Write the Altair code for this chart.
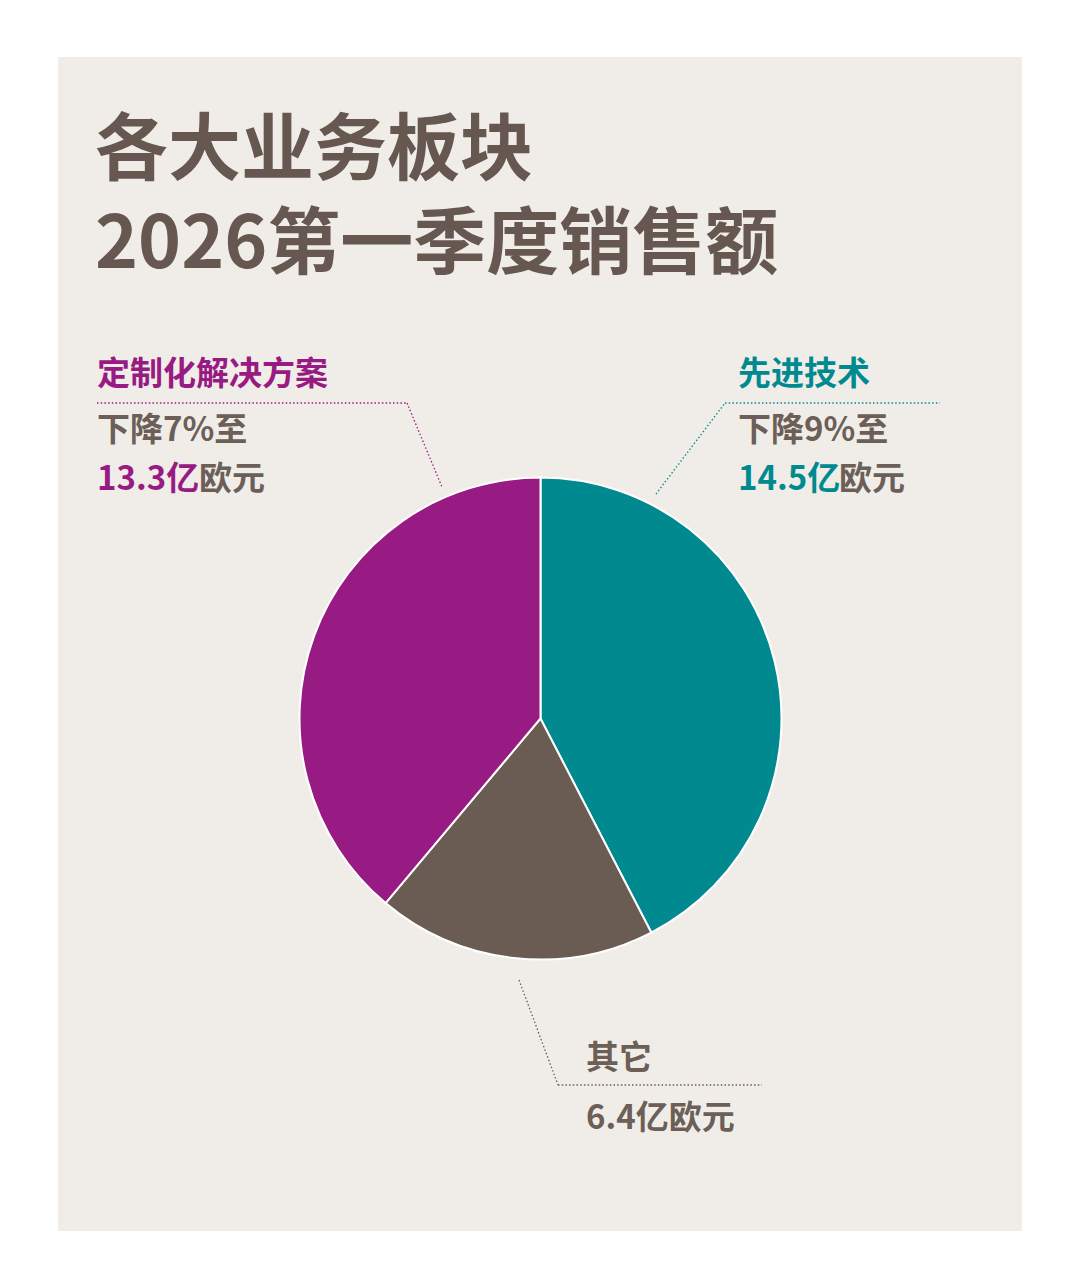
import altair as alt
import pandas as pd

# ---- data ----
categories = ["先进技术", "其它", "定制化解决方案"]
values = [14.5, 6.4, 13.3]
changes = ["下降9%至", "", "下降7%至"]
value_labels = ["14.5亿", "6.4亿", "13.3亿"]
unit = "欧元"
colors = ["#008A90", "#6B5C53", "#981B83"]
title_lines = ["各大业务板块", "2026第一季度销售额"]

FONT = "Noto Sans CJK SC"
TITLE_COLOR = "#665750"
TEXT_GRAY = "#6B5F58"
PANEL = "#F0EDE8"

df = pd.DataFrame({"cat": categories, "val": values, "order": [0, 1, 2]})

W, H = 964, 1174
CX, CY, R = 482.5, 661.5, 241

pie = alt.Chart(df).mark_arc(radius=R, stroke="white", strokeWidth=2).encode(
    theta=alt.Theta("val:Q", stack=True),
    order=alt.Order("order:Q"),
    color=alt.Color("cat:N", scale=alt.Scale(domain=categories, range=colors), legend=None),
    x=alt.value(CX),
    y=alt.value(CY),
)

base = alt.Chart(pd.DataFrame({"a": [0]}))

def txt(t, x, y, size, color, weight="bold"):
    return base.mark_text(
        text=t, font=FONT, fontSize=size, fontWeight=weight, color=color,
        align="left", baseline="middle"
    ).encode(x=alt.value(x), y=alt.value(y))

def seg(x1, y1, x2, y2, color):
    return base.mark_rule(color=color, strokeWidth=1.3, strokeDash=[1.5, 2.2]).encode(
        x=alt.value(x1), y=alt.value(y1), x2=alt.value(x2), y2=alt.value(y2)
    )

layers = [pie]
# title
layers.append(txt(title_lines[0], 37, 95, 73, TITLE_COLOR))
layers.append(txt(title_lines[1], 37, 189, 73, TITLE_COLOR))

# 定制化解决方案 (left)
layers.append(txt(categories[2], 39, 318, 33, colors[2]))
layers.append(txt(changes[2], 39, 374, 33, TEXT_GRAY))
layers.append(txt(value_labels[2], 39, 423, 33, colors[2]))
layers.append(txt(unit, 141, 423, 33, TEXT_GRAY))
layers.append(seg(39, 346, 349, 346, colors[2]))
layers.append(seg(349, 346, 384, 430, colors[2]))

# 先进技术 (right)
layers.append(txt(categories[0], 680, 318, 33, colors[0]))
layers.append(txt(changes[0], 680, 374, 33, TEXT_GRAY))
layers.append(txt(value_labels[0], 680, 423, 33, colors[0]))
layers.append(txt(unit, 781, 423, 33, TEXT_GRAY))
layers.append(seg(598, 437, 667, 346, colors[0]))
layers.append(seg(667, 346, 882, 346, colors[0]))

# 其它 (bottom)
layers.append(txt(categories[1], 528, 1002, 33, TEXT_GRAY))
layers.append(txt(value_labels[1] + unit, 528, 1062, 33, TEXT_GRAY))
layers.append(seg(461, 923, 500, 1028, colors[1]))
layers.append(seg(500, 1028, 704, 1028, colors[1]))

chart = alt.layer(*layers).properties(
    width=W, height=H,
    padding={"left": 50, "top": 49, "right": 50, "bottom": 40},
    autosize=alt.AutoSizeParams(type="none"),
    background="white",
).configure_view(fill=PANEL, stroke=None)

chart.save("out.html", embed_options={"renderer": "svg", "actions": False})
